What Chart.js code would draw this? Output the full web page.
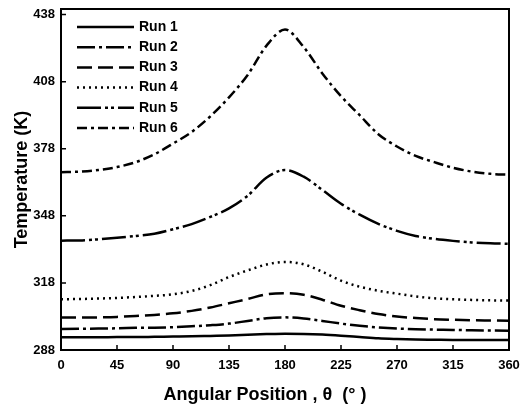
<!DOCTYPE html>
<html>
<head>
<meta charset="utf-8">
<script src="https://cdn.jsdelivr.net/npm/chart.js@4.4.1/dist/chart.umd.min.js"></script>
<style>
  html, body { margin: 0; padding: 0; background: #fff; }
  #wrap { width: 528px; height: 410px; }
</style>
</head>
<body>
<div id="wrap"><canvas id="chart" width="528" height="410"></canvas></div>
<script>
// Angular position (deg) and temperature (K) per run
var THETA = [0, 15, 30, 45, 60, 75, 90, 105, 120, 135, 150, 165, 180,
             195, 210, 225, 240, 255, 270, 285, 300, 315, 330, 345, 360];

var RUN1 = [293.7, 293.7, 293.7, 293.8, 293.8, 293.9, 294.0, 294.1, 294.3, 294.5, 294.8, 295.1, 295.3,
            295.2, 294.9, 294.4, 293.8, 293.2, 292.9, 292.7, 292.6, 292.5, 292.5, 292.5, 292.5];
var RUN2 = [297.4, 297.5, 297.6, 297.7, 297.9, 298.0, 298.2, 298.6, 299.1, 299.8, 301.0, 302.2, 302.6,
            302.1, 301.0, 299.8, 298.8, 298.1, 297.6, 297.3, 297.1, 297.0, 296.8, 296.7, 296.6];
var RUN3 = [302.5, 302.5, 302.6, 302.8, 303.2, 303.7, 304.4, 305.5, 307.0, 308.9, 310.8, 312.9, 313.4,
            312.7, 310.5, 307.8, 305.8, 304.1, 303.0, 302.3, 301.8, 301.5, 301.3, 301.2, 301.1];
var RUN4 = [310.7, 310.8, 311.0, 311.3, 311.7, 312.2, 312.9, 314.4, 317.0, 320.6, 323.6, 326.2, 327.4,
            326.3, 323.0, 319.0, 316.3, 314.5, 313.2, 312.0, 311.1, 310.7, 310.4, 310.2, 310.1];
var RUN5 = [336.9, 337.0, 337.5, 338.2, 339.0, 340.0, 342.0, 344.3, 347.5, 351.3, 357.0, 365.0, 368.5,
            365.5, 359.6, 353.4, 348.5, 344.4, 341.3, 339.0, 337.7, 336.8, 336.1, 335.7, 335.5];
var RUN6 = [367.5, 367.8, 368.5, 369.8, 372.0, 375.5, 380.3, 385.5, 392.5, 401.0, 411.0, 424.0, 431.3,
            423.5, 411.7, 401.5, 393.0, 384.5, 379.0, 374.8, 372.0, 369.5, 367.8, 366.8, 366.4];

var LABELS = ['Run 1', 'Run 2', 'Run 3', 'Run 4', 'Run 5', 'Run 6'];
var DASHES = [[], [18, 4, 3, 4], [15, 6], [2, 4], [24, 4, 3, 3, 3, 4], [10, 4, 3, 4]];

var X_TICKS = [0, 45, 90, 135, 180, 225, 270, 315, 360];
var Y_TICKS = [288, 318, 348, 378, 408, 438];

var INK = '#000';
var FONT = "'Liberation Sans', Arial, sans-serif";

function pts(arr) {
  return arr.map(function (v, i) { return { x: THETA[i], y: v }; });
}

var datasets = [RUN1, RUN2, RUN3, RUN4, RUN5, RUN6].map(function (run, i) {
  return {
    label: LABELS[i],
    data: pts(run),
    borderColor: INK,
    backgroundColor: INK,
    borderWidth: 2.5,
    borderDash: DASHES[i],
    pointRadius: 0,
    fill: false,
    cubicInterpolationMode: 'monotone'
  };
});

// frame + inward tick marks
var framePlugin = {
  id: 'frame',
  afterDraw: function (chart) {
    var ctx = chart.ctx, a = chart.chartArea;
    var xs = chart.scales.x, ys = chart.scales.y;
    ctx.save();
    ctx.strokeStyle = INK;
    ctx.lineWidth = 2;
    ctx.strokeRect(a.left, a.top, a.right - a.left, a.bottom - a.top);
    ctx.lineWidth = 1.5;
    ctx.beginPath();
    X_TICKS.forEach(function (v) {
      var px = xs.getPixelForValue(v);
      ctx.moveTo(px, a.bottom);
      ctx.lineTo(px, a.bottom - 5);
    });
    Y_TICKS.forEach(function (v) {
      var py = ys.getPixelForValue(v);
      ctx.moveTo(a.left, py);
      ctx.lineTo(a.left + 5, py);
    });
    ctx.stroke();
    ctx.restore();
  }
};

// legend inside the plot: line sample with the dataset's dash + label
var keyPlugin = {
  id: 'key',
  afterDraw: function (chart) {
    var ctx = chart.ctx, a = chart.chartArea;
    var x0 = a.left + 16, len = 57, y0 = a.top + 18, step = 20.2;
    ctx.save();
    ctx.strokeStyle = INK;
    ctx.fillStyle = INK;
    ctx.font = 'bold 14px ' + FONT;
    ctx.textBaseline = 'middle';
    chart.data.datasets.forEach(function (ds, i) {
      var y = y0 + i * step;
      ctx.lineWidth = ds.borderWidth;
      ctx.setLineDash(ds.borderDash || []);
      ctx.beginPath();
      ctx.moveTo(x0, y);
      ctx.lineTo(x0 + len, y);
      ctx.stroke();
      ctx.setLineDash([]);
      ctx.fillText(ds.label, x0 + len + 5, y);
    });
    ctx.restore();
  }
};

new Chart(document.getElementById('chart'), {
  type: 'line',
  data: { datasets: datasets },
  plugins: [framePlugin, keyPlugin],
  options: {
    responsive: false,
    animation: false,
    layout: { padding: { top: 9, right: 19, left: 0, bottom: 0 } },
    plugins: {
      tooltip: { enabled: false },
      legend: { display: false }
    },
    scales: {
      x: {
        type: 'linear',
        min: 0,
        max: 360,
        afterBuildTicks: function (s) { s.ticks = X_TICKS.map(function (v) { return { value: v }; }); },
        afterFit: function (s) { s.height = 60; s.paddingLeft = 0; s.paddingRight = 0; },
        grid: { display: false, drawTicks: false },
        border: { display: false },
        ticks: { color: INK, padding: 8, maxRotation: 0, autoSkip: false,
                 font: { family: FONT, size: 13, weight: 'bold' } },
        title: {
          display: true,
          text: 'Angular Position , θ  (° )        ',
          color: INK,
          padding: { top: 0, bottom: 4 },
          font: { family: FONT, size: 18, weight: 'bold' }
        }
      },
      y: {
        type: 'linear',
        min: 288,
        max: 440.5,
        afterBuildTicks: function (s) { s.ticks = Y_TICKS.map(function (v) { return { value: v }; }); },
        afterFit: function (s) { s.width = 61; s.paddingTop = 0; s.paddingBottom = 0; },
        grid: { display: false, drawTicks: false },
        border: { display: false },
        ticks: { color: INK, padding: 6, autoSkip: false,
                 font: { family: FONT, size: 13, weight: 'bold' } },
        title: {
          display: true,
          text: 'Temperature (K)',
          color: INK,
          padding: { top: 11, bottom: 0 },
          font: { family: FONT, size: 18, weight: 'bold' }
        }
      }
    }
  }
});
</script>
</body>
</html>
